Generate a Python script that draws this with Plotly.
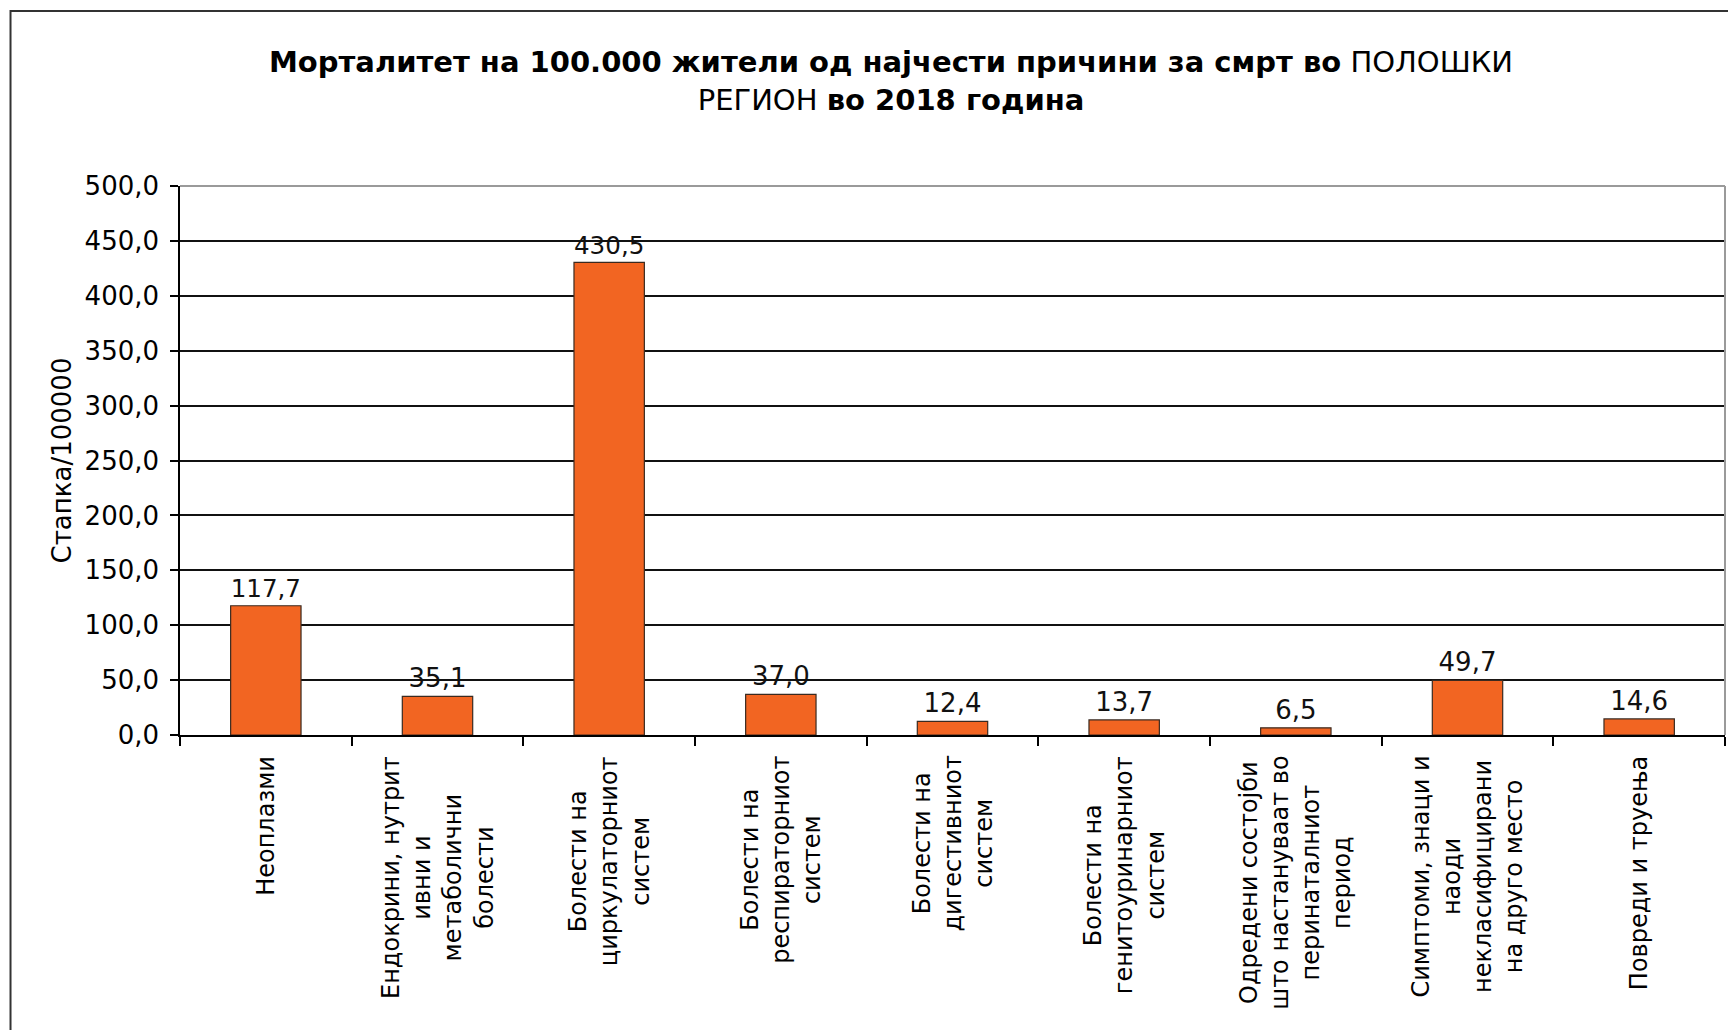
import plotly.graph_objects as go

categories = [
    "Неоплазми",
    "Ендокрини, нутритивни и метаболични болести",
    "Болести на циркулаторниот систем",
    "Болести на респираторниот систем",
    "Болести на дигестивниот систем",
    "Болести на генитоуринарниот систем",
    "Одредени состојби што настануваат во перинаталниот период",
    "Симптоми, знаци и наоди некласифицирани на друго место",
    "Повреди и труења",
]
labels = [
    "Неоплазми",
    "Ендокрини, нутрит<br>ивни и<br>метаболични<br>болести",
    "Болести на<br>циркулаторниот<br>систем",
    "Болести на<br>респираторниот<br>систем",
    "Болести на<br>дигестивниот<br>систем",
    "Болести на<br>генитоуринарниот<br>систем",
    "Одредени состојби<br>што настануваат во<br>перинаталниот<br>период",
    "Симптоми, знаци и<br>наоди<br>некласифицирани<br>на друго место",
    "Повреди и труења",
]
values = [117.7, 35.1, 430.5, 37.0, 12.4, 13.7, 6.5, 49.7, 14.6]

title_text = ("<b>Морталитет на 100.000 жители од најчести причини за смрт во</b> ПОЛОШКИ"
              "<br>РЕГИОН <b>во 2018 година</b>")
y_title = "Стапка/100000"

FONT = "DejaVu Sans"

fig = go.Figure()
fig.add_trace(go.Bar(
    x=categories, y=values, width=0.41,
    marker=dict(color="#F26522", line=dict(color="#3a2a20", width=1.2)),
    texttemplate="%{y:.1f}", textposition="outside", cliponaxis=False,
    textfont=dict(family=FONT, size=26, color="#111"),
))

for cat, lab in zip(categories, labels):
    fig.add_annotation(
        x=cat, xref="x", y=0, yref="paper", yshift=-19,
        text=lab, textangle=-90, showarrow=False,
        xanchor="center", yanchor="top", align="center",
        font=dict(family=FONT, size=24, color="#000"),
    )

# plot-area top/right border in grey
fig.add_shape(type="line", xref="paper", yref="paper", x0=0, x1=1, y0=1, y1=1,
              line=dict(color="#9a9a9a", width=2), layer="above")
fig.add_shape(type="line", xref="paper", yref="paper", x0=1, x1=1, y0=0, y1=1,
              line=dict(color="#9a9a9a", width=2), layer="above")
# outer chart frame
fig.add_shape(type="rect", xref="paper", yref="paper", x0=-0.1097, x1=1.02,
              y0=-0.6, y1=1.3188, line=dict(color="#333", width=2), layer="above")

fig.update_layout(
    width=1728, height=1022,
    margin=dict(l=172, r=11, t=178, b=295),
    paper_bgcolor="white", plot_bgcolor="white",
    separators=", ",
    showlegend=False,
    title=dict(text=title_text, x=0.511, xanchor="center", y=0.937, yanchor="middle",
               font=dict(family=FONT, size=29, color="#000")),
    xaxis=dict(type="category", range=[-0.5, 8.5], showticklabels=False,
               ticks="outside", tickson="boundaries", ticklen=9, tickcolor="#000", tickwidth=1.5,
               showline=True, linecolor="#000", linewidth=1.5, showgrid=False),
    yaxis=dict(range=[0, 500], dtick=50, tickformat=".1f",
               ticks="outside", ticklen=8, tickcolor="#000", tickwidth=1.5,
               ticklabelstandoff=6,
               showline=True, linecolor="#000", linewidth=1.5,
               showgrid=True, gridcolor="#111", gridwidth=1.5, zeroline=False,
               tickfont=dict(family=FONT, size=26, color="#000"),
               title=dict(text=y_title, standoff=6, font=dict(family=FONT, size=26, color="#000"))),
)

fig.write_html("out.html")
